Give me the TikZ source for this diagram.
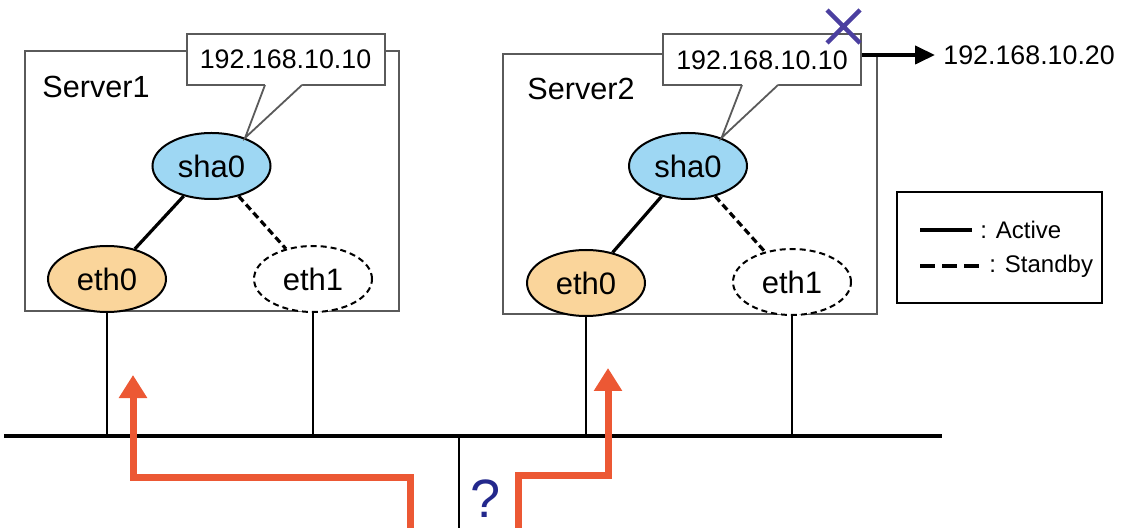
\documentclass[tikz,border=0pt]{standalone}
\usepackage{fontspec}
\setmainfont{Liberation Sans}
\usepackage{tikz}
\usetikzlibrary{
    arrows.meta,
    positioning,
    shapes.geometric
}
\definecolor{BoxGray}{RGB}{90,90,90}
\definecolor{ShaBlue}{RGB}{158,215,243}
\definecolor{EthOrange}{RGB}{250,213,155}
\definecolor{PathRed}{RGB}{236,88,52}
\definecolor{CrossBlue}{RGB}{75,63,160}
\definecolor{QNavy}{RGB}{35,40,140}
\tikzset{
  server/.style  = {draw=BoxGray, line width=1pt, minimum width=187pt,
                    minimum height=130pt, inner sep=0pt},
  ipbox/.style   = {draw=BoxGray, fill=white, line width=1pt, minimum width=99pt,
                    minimum height=25.5pt, inner sep=0pt,
                    font=\fontsize{13.4}{15}\selectfont},
  srvname/.style = {font=\fontsize{15.3}{17}\selectfont},
  nic/.style     = {ellipse, draw, line width=1pt, minimum width=59pt,
                    minimum height=33pt, inner sep=0pt,
                    font=\fontsize{15.5}{17}\selectfont},
  shanic/.style  = {nic, fill=ShaBlue},
  act/.style     = {nic, fill=EthOrange},
  stby/.style    = {nic, fill=white, dash pattern=on 3pt off 2pt},
  link/.style    = {line width=1.6pt},
  slink/.style   = {line width=1.6pt, dash pattern=on 3.5pt off 2pt},
  drop/.style    = {line width=1.2pt},
  bus/.style     = {line width=2.2pt},
  failover/.style= {-{Triangle[width=13.5pt,length=11.5pt]}, PathRed,
                    line width=3.5pt},
  ipar/.style    = {-{Triangle[width=9pt,length=10pt]}, line width=2pt},
  legtxt/.style  = {anchor=west, inner sep=0pt, font=\fontsize{12}{14}\selectfont}
}

\begin{document}
\begin{tikzpicture}[x=0.5pt,y=-0.5pt]
\useasboundingbox (0,0) rectangle (1122,528);

% Server1
\node[server] (s1box) at (211.5,181) {};
\node[srvname] (s1name) at (96,87) {Server1};
\node[shanic] (s1sha) at (211.5,166) {sha0};
\node[act] (s1eth0) at (107,279) {eth0};
\node[stby] (s1eth1) at (313,279) {eth1};
\draw[link] (s1sha) -- (s1eth0);
\draw[slink] (s1sha) -- (s1eth1);
\node[ipbox] (s1ip) at (285.5,59.5) {192.168.10.10};
\coordinate (s1tip) at (s1sha.40);
\fill[white] (265,82) -- (302,82) -- (302,86) -- (s1tip) -- (265,86) -- cycle;
\draw[BoxGray, line width=0.9pt] (265,85) -- (s1tip) -- (302,85);

% Server2
\node[server] (s2box) at (690,184.5) {};
\node[srvname] (s2name) at (581,89) {Server2};
\node[shanic] (s2sha) at (688,166) {sha0};
\node[act] (s2eth0) at (586,283) {eth0};
\node[stby] (s2eth1) at (792,282) {eth1};
\draw[link] (s2sha) -- (s2eth0);
\draw[slink] (s2sha) -- (s2eth1);
\node[ipbox] (s2ip) at (762,60) {192.168.10.10};
\coordinate (s2tip) at (s2sha.40);
\fill[white] (742,82) -- (778,82) -- (778,86) -- (s2tip) -- (742,86) -- cycle;
\draw[BoxGray, line width=0.9pt] (742,85) -- (s2tip) -- (778,85);

% new address
\node[anchor=west, inner sep=4pt, font=\fontsize{13.4}{15}\selectfont]
  (newip) at (935,55) {192.168.10.20};
\draw[ipar] ([yshift=2.5pt]s2ip.east) -- (newip.west);
\draw[CrossBlue, line width=2.2pt] (827,10) -- (860,43) (827,43) -- (860,10);

% legend
\node[draw, line width=1pt, minimum width=102.5pt, minimum height=55.5pt,
      inner sep=0pt] (legend) at (999.5,247.5) {};
\draw[link] (920,230) -- (972,230);
\node[legtxt] (legact) at (980,230) {: Active};
\draw[line width=1.6pt, dash pattern=on 7.5pt off 3.5pt] (920,266) -- (980,266);
\node[legtxt] (legstb) at (989,266) {: Standby};

% LAN
\coordinate (busW) at (4,436);
\coordinate (busE) at (942,436);
\draw[bus] (busW) -- (busE);
\foreach \n in {s1eth0,s1eth1,s2eth0,s2eth1}
  \draw[drop] (\n.south) -- (\n.south |- busW);
\coordinate (stemT) at (459,436);
\coordinate (stemB) at (459,530);
\draw[drop] (stemT) -- (stemB);
\node[QNavy, inner sep=0pt, font=\fontsize{27}{30}\selectfont] (qmark) at (486,499) {?};

% switching paths
\coordinate (pL0) at (410,532);
\coordinate (pL1) at (133,375);
\coordinate (pR0) at (518,532);
\coordinate (pR1) at (608,368);
\draw[failover] (pL0) |- (133,477) -- (pL1);
\draw[failover] (pR0) |- (608,475) -- (pR1);
\end{tikzpicture}
\end{document}
